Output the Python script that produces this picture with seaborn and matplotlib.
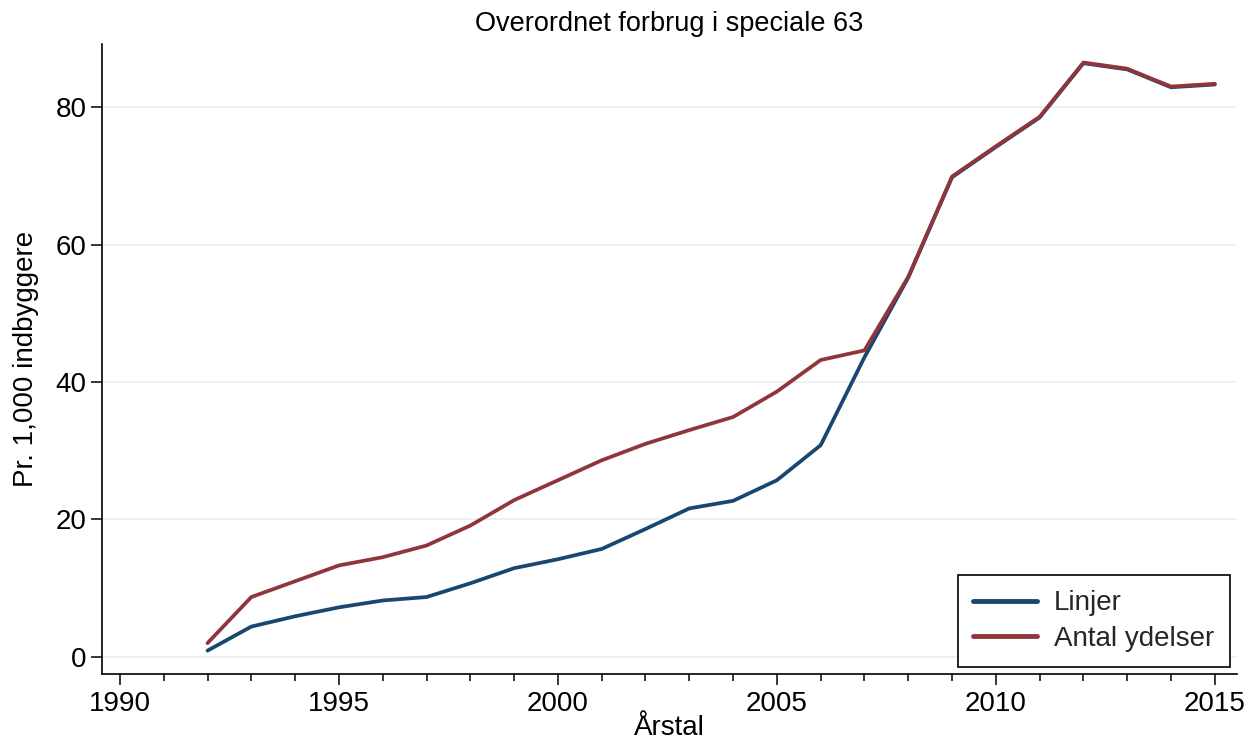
import matplotlib
matplotlib.use("Agg")
import matplotlib.pyplot as plt
import seaborn as sns
import pandas as pd
from matplotlib.ticker import MultipleLocator

years = list(range(1992, 2016))
linjer = [0.9, 4.4, 5.9, 7.2, 8.2, 8.7, 10.7, 12.9, 14.2, 15.7, 18.6, 21.6, 22.7, 25.7,
          30.8, 43.6, 55.2, 69.8, 74.2, 78.5, 86.4, 85.5, 82.9, 83.3]
antal = [2.0, 8.7, 11.0, 13.3, 14.5, 16.2, 19.1, 22.8, 25.7, 28.6, 31.0, 33.0, 34.9, 38.6,
         43.2, 44.6, 55.3, 69.9, 74.3, 78.6, 86.5, 85.6, 83.0, 83.4]
series_names = ["Linjer", "Antal ydelser"]
colors = ["#1a476f", "#90353b"]

title = "Overordnet forbrug i speciale 63"
xlabel = "Årstal"
ylabel = "Pr. 1,000 indbyggere"
xticks = [1990, 1995, 2000, 2005, 2010, 2015]
yticks = [0, 20, 40, 60, 80]

df = pd.DataFrame({
    "year": years * 2,
    "value": linjer + antal,
    "series": [series_names[0]] * len(years) + [series_names[1]] * len(years),
})

sns.set_theme(style="white")
plt.rcParams["font.family"] = ["Liberation Sans", "DejaVu Sans"]

fig = plt.figure(figsize=(12.53, 7.44), dpi=100)
ax = fig.add_axes([0.0814, 0.0941, 0.9056, 0.8468])

sns.lineplot(data=df, x="year", y="value", hue="series", hue_order=series_names,
             palette=colors, linewidth=2.7, ax=ax, legend=True)

ax.set_xlim(1989.59, 2015.5)
ax.set_ylim(-2.5, 89.2)
ax.set_xticks(xticks)
ax.set_yticks(yticks)
ax.xaxis.set_minor_locator(MultipleLocator(1))
ax.grid(axis="y", color="#eaf2f3", linewidth=1.4)
ax.set_axisbelow(True)

for s in ["top", "right"]:
    ax.spines[s].set_visible(False)
for s in ["left", "bottom"]:
    ax.spines[s].set_color("black")
    ax.spines[s].set_linewidth(1.2)

ax.tick_params(axis="both", which="major", direction="out", length=8, width=1.1,
               color="black", labelsize=20, labelcolor="black", bottom=True, left=True)
ax.tick_params(axis="x", which="major", pad=4)
ax.tick_params(axis="y", which="major", pad=3)
ax.tick_params(axis="x", which="minor", direction="out", length=5, width=1.1,
               color="black", bottom=True)

ax.set_title(title, fontsize=19.5, color="black", pad=9)
ax.set_xlabel(xlabel, fontsize=20, color="black", labelpad=-1)
ax.set_ylabel(ylabel, fontsize=20, color="black", labelpad=12)

leg = ax.legend(loc="lower right", bbox_to_anchor=(0.9937, 0.0106), fontsize=20,
                frameon=True, fancybox=False, edgecolor="black", framealpha=1,
                handlelength=2.3, borderpad=0.55, labelspacing=0.35, handletextpad=0.6,
                borderaxespad=0)
leg.get_frame().set_linewidth(1.2)
for line in leg.get_lines():
    line.set_linewidth(3.5)

fig.savefig("out.png", dpi=100)
